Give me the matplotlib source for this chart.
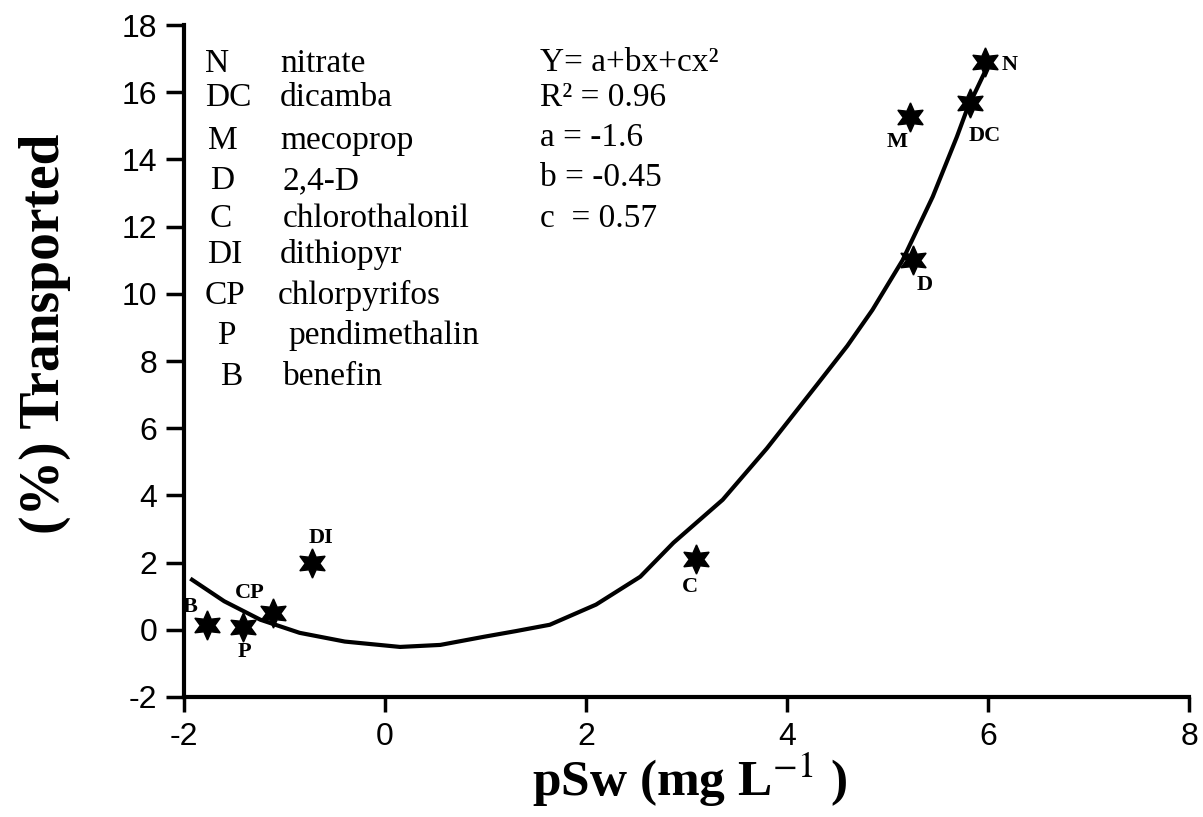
import numpy as np
import matplotlib.pyplot as plt

plt.rcParams['mathtext.fontset'] = 'stix'
plt.rcParams['axes.unicode_minus'] = False

# measured points
codes = ['B', 'P', 'CP', 'DI', 'C', 'D', 'M', 'DC', 'N']
psw = [-1.77, -1.41, -1.11, -0.73, 3.09, 5.25, 5.22, 5.82, 5.97]
transported = [0.15, 0.09, 0.51, 1.99, 2.11, 11.0, 15.27, 15.68, 16.9]

# fitted curve
fit_x = [-1.92, -1.6, -1.24, -0.85, -0.4, 0.15, 0.55, 0.98, 1.3, 1.64, 2.1, 2.54,
         2.87, 3.36, 3.8, 4.3, 4.6, 4.85, 5.15, 5.45, 5.69, 5.79, 6.0]
fit_y = [1.49, 0.85, 0.30, -0.09, -0.35, -0.51, -0.45, -0.21, -0.04, 0.15, 0.75, 1.58,
         2.59, 3.87, 5.4, 7.3, 8.45, 9.52, 11.0, 12.89, 14.67, 15.48, 16.8]

legend_codes = ['N', 'DC', 'M', 'D', 'C', 'DI', 'CP', 'P', 'B']
legend_names = ['nitrate', 'dicamba', 'mecoprop', '2,4-D', 'chlorothalonil',
                'dithiopyr', 'chlorpyrifos', 'pendimethalin', 'benefin']
eq_lines = ['Y= a+bx+cx²', 'R² = 0.96', 'a = -1.6', 'b = -0.45', 'c  = 0.57']

W, H = 1203, 817
fig = plt.figure(figsize=(W / 100, H / 100), dpi=100)
ax = fig.add_axes([184 / W, 1 - 697 / H, (1189 - 184) / W, (697 - 25) / H])

ax.plot(fit_x, fit_y, color='black', lw=3, solid_joinstyle='round')
ax.plot(psw, transported, ls='none', marker=(6, 1, 0), ms=21, color='black')

# point labels (offsets in points)
label_off = {'B': (-12, 13), 'P': (1, -18), 'CP': (-17, 14), 'DI': (7, 18),
             'C': (-4, -20), 'D': (9, -18), 'M': (-9, -18), 'DC': (11, -24),
             'N': (18, -2)}
for c, x, y in zip(codes, psw, transported):
    ax.annotate(c, (x, y), xytext=label_off[c], textcoords='offset points',
                ha='center', va='center', fontsize=16, fontweight='bold',
                family='Liberation Serif')

ax.set_xlim(-2, 8)
ax.set_ylim(-2, 18)
ax.set_xticks(np.arange(-2, 9, 2))
ax.set_yticks(np.arange(-2, 19, 2))
for s in ['top', 'right']:
    ax.spines[s].set_visible(False)
for s in ['left', 'bottom']:
    ax.spines[s].set_linewidth(3)
ax.tick_params(axis='both', width=2.5, labelsize=23, direction='out')
ax.tick_params(axis='y', length=13, pad=6)
ax.tick_params(axis='x', length=11, pad=7)
for t in ax.get_xticklabels() + ax.get_yticklabels():
    t.set_family('Liberation Sans')

ax.set_ylabel('(%) Transported', fontsize=40, fontweight='bold', family='Liberation Serif')
ax.yaxis.set_label_coords(-0.112, 0.54)
ax.set_xlabel(r'pSw (mg L$^{-1}$ )', fontsize=37, fontweight='bold', family='Liberation Serif')
ax.xaxis.set_label_coords(0.503, -0.08)

# key of compounds
rows = [63, 97, 140, 180, 218, 254, 295, 335, 376]
code_x = [205, 205, 208, 210, 210, 207, 205, 217, 220]
name_x = [280, 280, 280, 283, 283, 280, 278, 288, 283]
for code, name, r, cx, nx in zip(legend_codes, legend_names, rows, code_x, name_x):
    fig.text(cx / W, 1 - (r + 9) / H, code, fontsize=24, family='Liberation Serif', va='baseline')
    fig.text(nx / W, 1 - (r + 9) / H, name, fontsize=24, family='Liberation Serif', va='baseline')

eq_rows = [62, 97, 137, 177, 218]
for line, r in zip(eq_lines, eq_rows):
    fig.text(540 / W, 1 - (r + 9) / H, line, fontsize=24, family='Liberation Serif', va='baseline')

fig.savefig('out.png', dpi=100)
